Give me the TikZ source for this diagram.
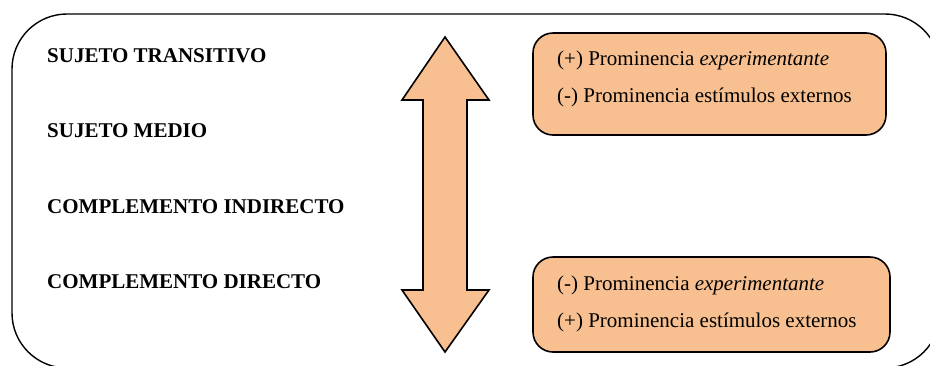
\documentclass[tikz,border=0pt]{standalone}
\usepackage{fontspec}
\setmainfont{Liberation Serif}
\definecolor{boxorange}{RGB}{248,192,144}
\begin{document}
\begin{tikzpicture}[x=1pt,y=-1pt,
  frame/.style={draw=black,line width=1.4pt,rounded corners=55pt},
  notebox/.style={draw=black,line width=1.6pt,fill=boxorange,rounded corners=20pt},
  rolelabel/.style={anchor=base west,font=\fontsize{21}{24}\selectfont\bfseries,inner sep=0pt},
  notetext/.style={anchor=base west,font=\fontsize{21}{24}\selectfont,inner sep=0pt},
  bigarrow/.style={draw=black,line width=1.6pt,fill=boxorange,line join=miter}]
  \useasboundingbox (0,0) rectangle (930,365);
  \begin{scope}
    \clip (0,0) rectangle (930,365);
    \draw[frame] (12,14) rectangle (940,368);
  \end{scope}

  % grammatical roles, left column
  \node[rolelabel] (st) at (47,62)    {SUJETO TRANSITIVO};
  \node[rolelabel] (sm) at (47,137.5) {SUJETO MEDIO};
  \node[rolelabel] (ci) at (47,213)   {COMPLEMENTO INDIRECTO};
  \node[rolelabel] (cd) at (47,288.5) {COMPLEMENTO DIRECTO};

  % double-headed scale arrow
  \draw[bigarrow] (445,37) -- (489,100) -- (467,100) -- (467,290) -- (489,290)
    -- (445,352) -- (402,290) -- (423,290) -- (423,100) -- (402,100) -- cycle;

  % upper note box
  \draw[notebox] (533,33) rectangle (886,135);
  \node[notetext] (t1) at (557,65)  {(+) Prominencia \textit{experimentante}};
  \node[notetext] (t2) at (557,102) {(-) Prominencia estímulos externos};

  % lower note box
  \draw[notebox] (533,257) rectangle (890,352);
  \node[notetext] (b1) at (557,290) {(-) Prominencia \textit{experimentante}};
  \node[notetext] (b2) at (557,327) {(+) Prominencia estímulos externos};
\end{tikzpicture}
\end{document}
